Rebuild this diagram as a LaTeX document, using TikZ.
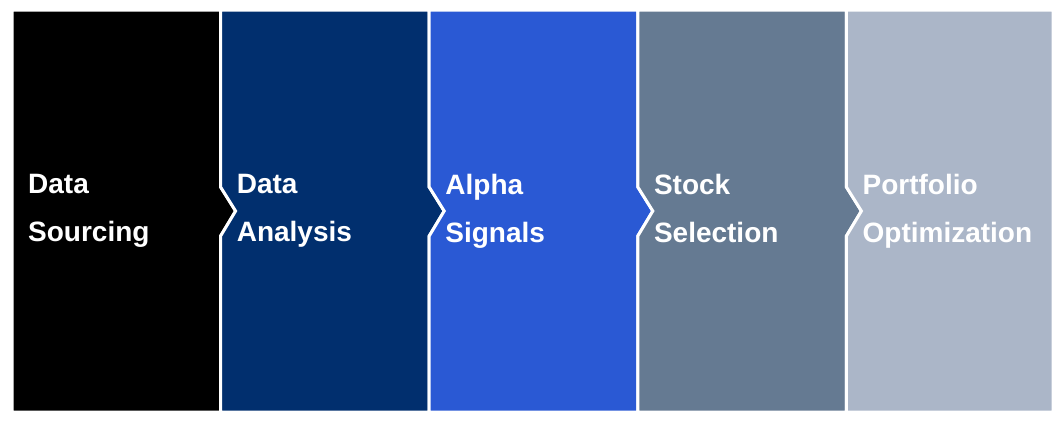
\documentclass[tikz,border=0pt]{standalone}
\usepackage{fontspec}
\setmainfont{Liberation Sans}
\begin{document}
\begin{tikzpicture}[x=1pt,y=-1pt,
  lbl/.style={anchor=north west,align=left,text=white,font=\fontsize{28}{48}\selectfont\bfseries,inner sep=0pt}]
\useasboundingbox (0,0) rectangle (1063,424);
\fill[white] (0,0) rectangle (1063,424);
\definecolor{c1}{HTML}{000000}
\definecolor{c2}{HTML}{012F6E}
\definecolor{c3}{HTML}{2A59D4}
\definecolor{c4}{HTML}{657A92}
\definecolor{c5}{HTML}{ABB6C8}
\def\T{10}\def\B{412}
\foreach \i/\c/\txt in {0/c1/{Data\\Sourcing},1/c2/{Data\\Analysis},2/c3/{Alpha\\Signals},3/c4/{Stock\\Selection},4/c5/{Portfolio\\Optimization}}{
  \pgfmathsetmacro\L{12+208.6*\i}
  \pgfmathsetmacro\R{\L+208.6}
  \ifnum\i=4 \def\R{1053}\fi
  \ifnum\i=0
    \ifnum\i=4\else
    \fill[\c,draw=white,line width=3pt,line join=miter] (\L,\T) -- (\R,\T) -- (\R,187) -- (\R+15,211) -- (\R,236) -- (\R,\B) -- (\L,\B) -- cycle;
    \fi
  \else\ifnum\i=4
    \fill[\c,draw=white,line width=3pt] (\L,\T) -- (\R,\T) -- (\R,\B) -- (\L,\B) -- (\L,236) -- (\L+15,211) -- (\L,187) -- cycle;
  \else
    \fill[\c,draw=white,line width=3pt] (\L,\T) -- (\R,\T) -- (\R,187) -- (\R+15,211) -- (\R,236) -- (\R,\B) -- (\L,\B) -- (\L,236) -- (\L+15,211) -- (\L,187) -- cycle;
  \fi\fi
  \node[lbl] (t\i) at (\L+16,174) {\txt};
}
\end{tikzpicture}
\end{document}
